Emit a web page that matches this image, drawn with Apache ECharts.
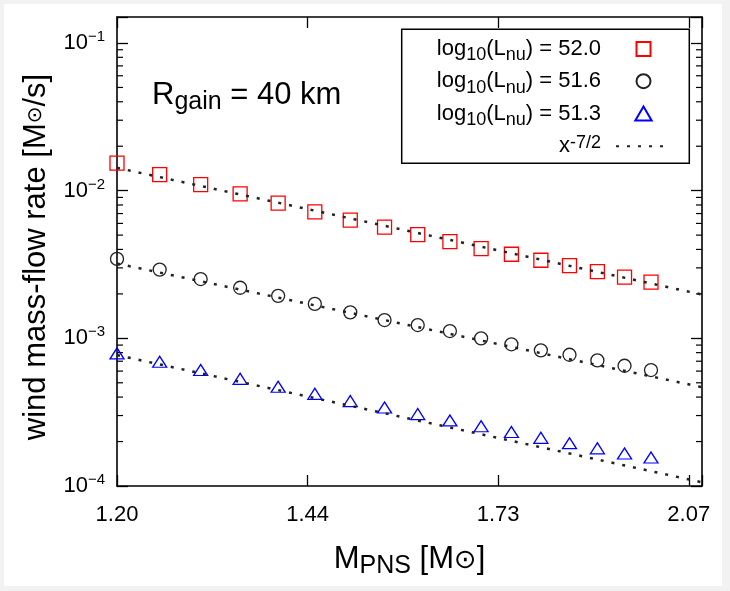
<!DOCTYPE html>
<html><head><meta charset="utf-8">
<script src="https://cdn.jsdelivr.net/npm/echarts@6/dist/echarts.min.js"></script>
<style>html,body{margin:0;padding:0;background:#f2f2f2;}#c{width:730px;height:591px;}</style>
</head><body><div id="c"></div>
<script>
// ---- data ----
const massValues = [1.20, 1.25, 1.30, 1.35, 1.40, 1.45, 1.50, 1.55, 1.60, 1.65, 1.70, 1.75, 1.80, 1.85, 1.90, 1.95, 2.00];
const rate520 = [0.01536, 0.01286, 0.0110, 0.00951, 0.00823, 0.00718, 0.00631, 0.00566, 0.00504, 0.00452, 0.00405, 0.00371, 0.00338, 0.00311, 0.00283, 0.00260, 0.00240];
const rate516 = [0.00345, 0.00292, 0.00252, 0.00220, 0.00194, 0.00171, 0.00150, 0.00133, 0.00123, 0.00112, 0.00100, 0.000911, 0.000829, 0.000774, 0.000709, 0.000652, 0.000610];
const rate513 = [0.000791, 0.000694, 0.000610, 0.000532, 0.000470, 0.000421, 0.000376, 0.000340, 0.000307, 0.000278, 0.000254, 0.000232, 0.000212, 0.000195, 0.000180, 0.000166, 0.000156];
const fitX = [1.2, 2.1];
const fit520 = [0.01428, 0.00198];
const fit516 = [0.00321, 0.000467];
const fit513 = [0.00077, 0.000106];
const lumLabels = ['52.0', '51.6', '51.3'];
const xTickLabels = ['1.20', '1.44', '1.73', '2.07'];
const yTickExponents = ['−4', '−3', '−2', '−1'];
const minorY = [2e-4,3e-4,4e-4,5e-4,6e-4,7e-4,8e-4,9e-4,2e-3,3e-3,4e-3,5e-3,6e-3,7e-3,8e-3,9e-3,2e-2,3e-2,4e-2,5e-2,6e-2,7e-2,8e-2,9e-2];
const X_MIN = 1.2, X_MAX = 2.1, Y_MIN = 1e-4, Y_MAX = 0.15;
const FIT_NAME = 'x^-7/2';

const seriesNames = lumLabels.map(l => 'log10(Lnu) = ' + l);
const FONT = 'Liberation Sans';

const chart = echarts.init(document.getElementById('c'), null, {renderer: 'canvas'});

function xAxisCfg(pos, showLabel) {
  return {
    type: 'log', logBase: 1.2, min: X_MIN, max: X_MAX, interval: 1, position: pos,
    axisLine: {show: true, onZero: false, lineStyle: {color: '#000', width: 1.6}},
    axisTick: {show: true, inside: true, length: 11, lineStyle: {color: '#000', width: 1.3}},
    minorTick: {show: false}, splitLine: {show: false},
    axisLabel: {
      show: showLabel, margin: 18, color: '#000', fontFamily: FONT, fontSize: 22, lineHeight: 22,
      formatter: v => {
        const k = Math.log(v) / Math.log(1.2);
        if (Math.abs(k - Math.round(k)) > 0.01) return '';
        return xTickLabels[Math.round(k) - 1] || '';
      }
    }
  };
}
function yAxisCfg(pos, showLabel) {
  return {
    type: 'log', logBase: 10, min: Y_MIN, max: Y_MAX, interval: 1, position: pos,
    axisLine: {show: true, onZero: false, lineStyle: {color: '#000', width: 1.6}},
    axisTick: {show: true, inside: true, length: 11, lineStyle: {color: '#000', width: 1.3}},
    minorTick: {show: false}, splitLine: {show: false},
    axisLabel: {
      show: showLabel, margin: 12, color: '#000', fontFamily: FONT,
      formatter: v => {
        const k = Math.log10(v);
        if (Math.abs(k - Math.round(k)) > 0.01) return '';
        const e = yTickExponents[Math.round(k) + 4];
        return e ? '{b|10}{s|' + e + '}' : '';
      },
      rich: {
        b: {fontSize: 22, lineHeight: 24, fontFamily: FONT, color: '#000'},
        s: {fontSize: 15, lineHeight: 16, padding: [0, 0, 12, 0], fontFamily: FONT, color: '#000'}
      }
    }
  };
}

const xA = xAxisCfg('bottom', true);
xA.name = '{m|M}{p|PNS}{m| [M}{o|⊙}{m|]}';
xA.nameLocation = 'middle';
xA.nameGap = 56;
xA.nameTextStyle = {
  color: '#000',
  rich: {
    m: {fontSize: 31, lineHeight: 34, fontFamily: FONT, color: '#000'},
    p: {fontSize: 25, lineHeight: 28, padding: [14, 0, 0, 0], fontFamily: FONT, color: '#000'},
    o: {fontSize: 27, lineHeight: 30, padding: [4, 0, 0, 0], fontFamily: 'DejaVu Sans', color: '#000'}
  }
};
const yA = yAxisCfg('left', true);
yA.name = '{t|wind mass-flow rate [M}{o|⊙}{e|/s]}';
yA.nameLocation = 'middle';
yA.nameGap = 64;
yA.nameTextStyle = {
  color: '#000',
  rich: {
    t: {fontSize: 31, lineHeight: 34, fontFamily: FONT, color: '#000'},
    e: {fontSize: 31, lineHeight: 34, padding: [0, 11, 0, 0], fontFamily: FONT, color: '#000'},
    o: {fontSize: 20, lineHeight: 22, fontFamily: 'DejaVu Sans', color: '#000'}
  }
};

const markerDefs = [
  {symbol: 'rect', size: 14, color: '#f00', legendIcon: 'path://M0,0L10,0L10,10L0,10Z'},
  {symbol: 'circle', size: 13, color: '#222', legendIcon: 'circle'},
  {symbol: 'triangle', size: [14, 11], color: '#00f', legendIcon: 'path://M7,0L14,12L0,12Z'}
];
const rates = [rate520, rate516, rate513];
const fits = [fit520, fit516, fit513];

const series = [];
rates.forEach((arr, i) => {
  series.push({
    name: seriesNames[i], type: 'scatter', xAxisIndex: 0, yAxisIndex: 0,
    symbol: markerDefs[i].symbol, symbolSize: markerDefs[i].size, z: 3,
    itemStyle: {color: 'rgba(255,255,255,0)', borderColor: markerDefs[i].color, borderWidth: 1.3, opacity: 1},
    data: massValues.map((x, j) => [x, arr[j]])
  });
});
fits.forEach((arr) => {
  series.push({
    name: FIT_NAME, type: 'line', xAxisIndex: 0, yAxisIndex: 0, showSymbol: false, symbol: 'none', z: 4,
    itemStyle: {color: 'rgba(0,0,0,0)', borderColor: 'rgba(0,0,0,0)', borderWidth: 0},
    lineStyle: {color: '#222', width: 2.5, type: [3, 8]},
    data: fitX.map((x, j) => [x, arr[j]])
  });
});
series.push({
  type: 'custom', xAxisIndex: 0, yAxisIndex: 0, silent: true, z: 3, clip: false,
  data: minorY.map(v => [X_MIN, v]),
  renderItem: (params, api) => {
    const y = api.coord([X_MIN, api.value(1)])[1];
    const cs = params.coordSys;
    return {type: 'group', children: [
      {type: 'line', shape: {x1: cs.x, y1: y, x2: cs.x + 6, y2: y}, style: {stroke: '#000', lineWidth: 1.2}},
      {type: 'line', shape: {x1: cs.x + cs.width - 6, y1: y, x2: cs.x + cs.width, y2: y}, style: {stroke: '#000', lineWidth: 1.2}}
    ]};
  }
});

const legendRich = {
  n: {fontSize: 22, lineHeight: 24, fontFamily: FONT, color: '#000'},
  d: {fontSize: 18, lineHeight: 19, padding: [13, 0, 0, 0], fontFamily: FONT, color: '#000'},
  e: {fontSize: 22, lineHeight: 24, padding: [0, 10, 0, 0], fontFamily: FONT, color: '#000'},
  xm: {fontSize: 22, lineHeight: 24, padding: [5, 0, 5, 0], fontFamily: FONT, color: '#000'},
  xs: {fontSize: 18, lineHeight: 19, padding: [0, 10, 7, 0], fontFamily: FONT, color: '#000'}
};

const legendData = seriesNames.map((n, i) => ({name: n, icon: markerDefs[i].legendIcon}));
legendData.push({name: FIT_NAME, itemStyle: {color: 'rgba(0,0,0,0)', borderColor: 'rgba(0,0,0,0)', borderWidth: 0}});

chart.setOption({
  animation: false,
  backgroundColor: '#f2f2f2',
  grid: {left: 117, top: 17, width: 585, height: 469, containLabel: false},
  xAxis: [xA, xAxisCfg('top', false)],
  yAxis: [yA, yAxisCfg('right', false)],
  legend: {
    data: legendData,
    orient: 'vertical', right: 58, top: 33.4, padding: 0, z: 10,
    itemWidth: 55, itemHeight: 14, itemGap: 1.3, align: 'right', selectedMode: false, symbolKeepAspect: true,
    textStyle: {color: '#000', fontFamily: FONT, fontSize: 22, rich: legendRich},
    formatter: name => {
      if (name === FIT_NAME) return '{xm|x}{xs|-7/2}';
      const i = seriesNames.indexOf(name);
      return '{n|log}{d|10}{n|(L}{d|nu}{e|) = ' + lumLabels[i] + '}';
    }
  },
  graphic: [
    {type: 'rect', z: -10, silent: true, shape: {x: 4, y: 4, width: 718, height: 582}, style: {fill: '#fff'}},
    {type: 'rect', z: 9, silent: true, shape: {x: 401.7, y: 29.3, width: 287.6, height: 134}, style: {fill: '#fff', stroke: '#000', lineWidth: 1.5}},
    {type: 'text', z: 9, silent: true, style: {
      x: 152, y: 78, text: '{a|R}{b|gain}{a| = 40 km}',
      rich: {
        a: {fontSize: 31, lineHeight: 34, fontFamily: FONT, fill: '#000', color: '#000'},
        b: {fontSize: 25, lineHeight: 28, padding: [14, 0, 0, 0], fontFamily: FONT, fill: '#000', color: '#000'}
      }
    }}
  ],
  series: series
});
</script></body></html>
